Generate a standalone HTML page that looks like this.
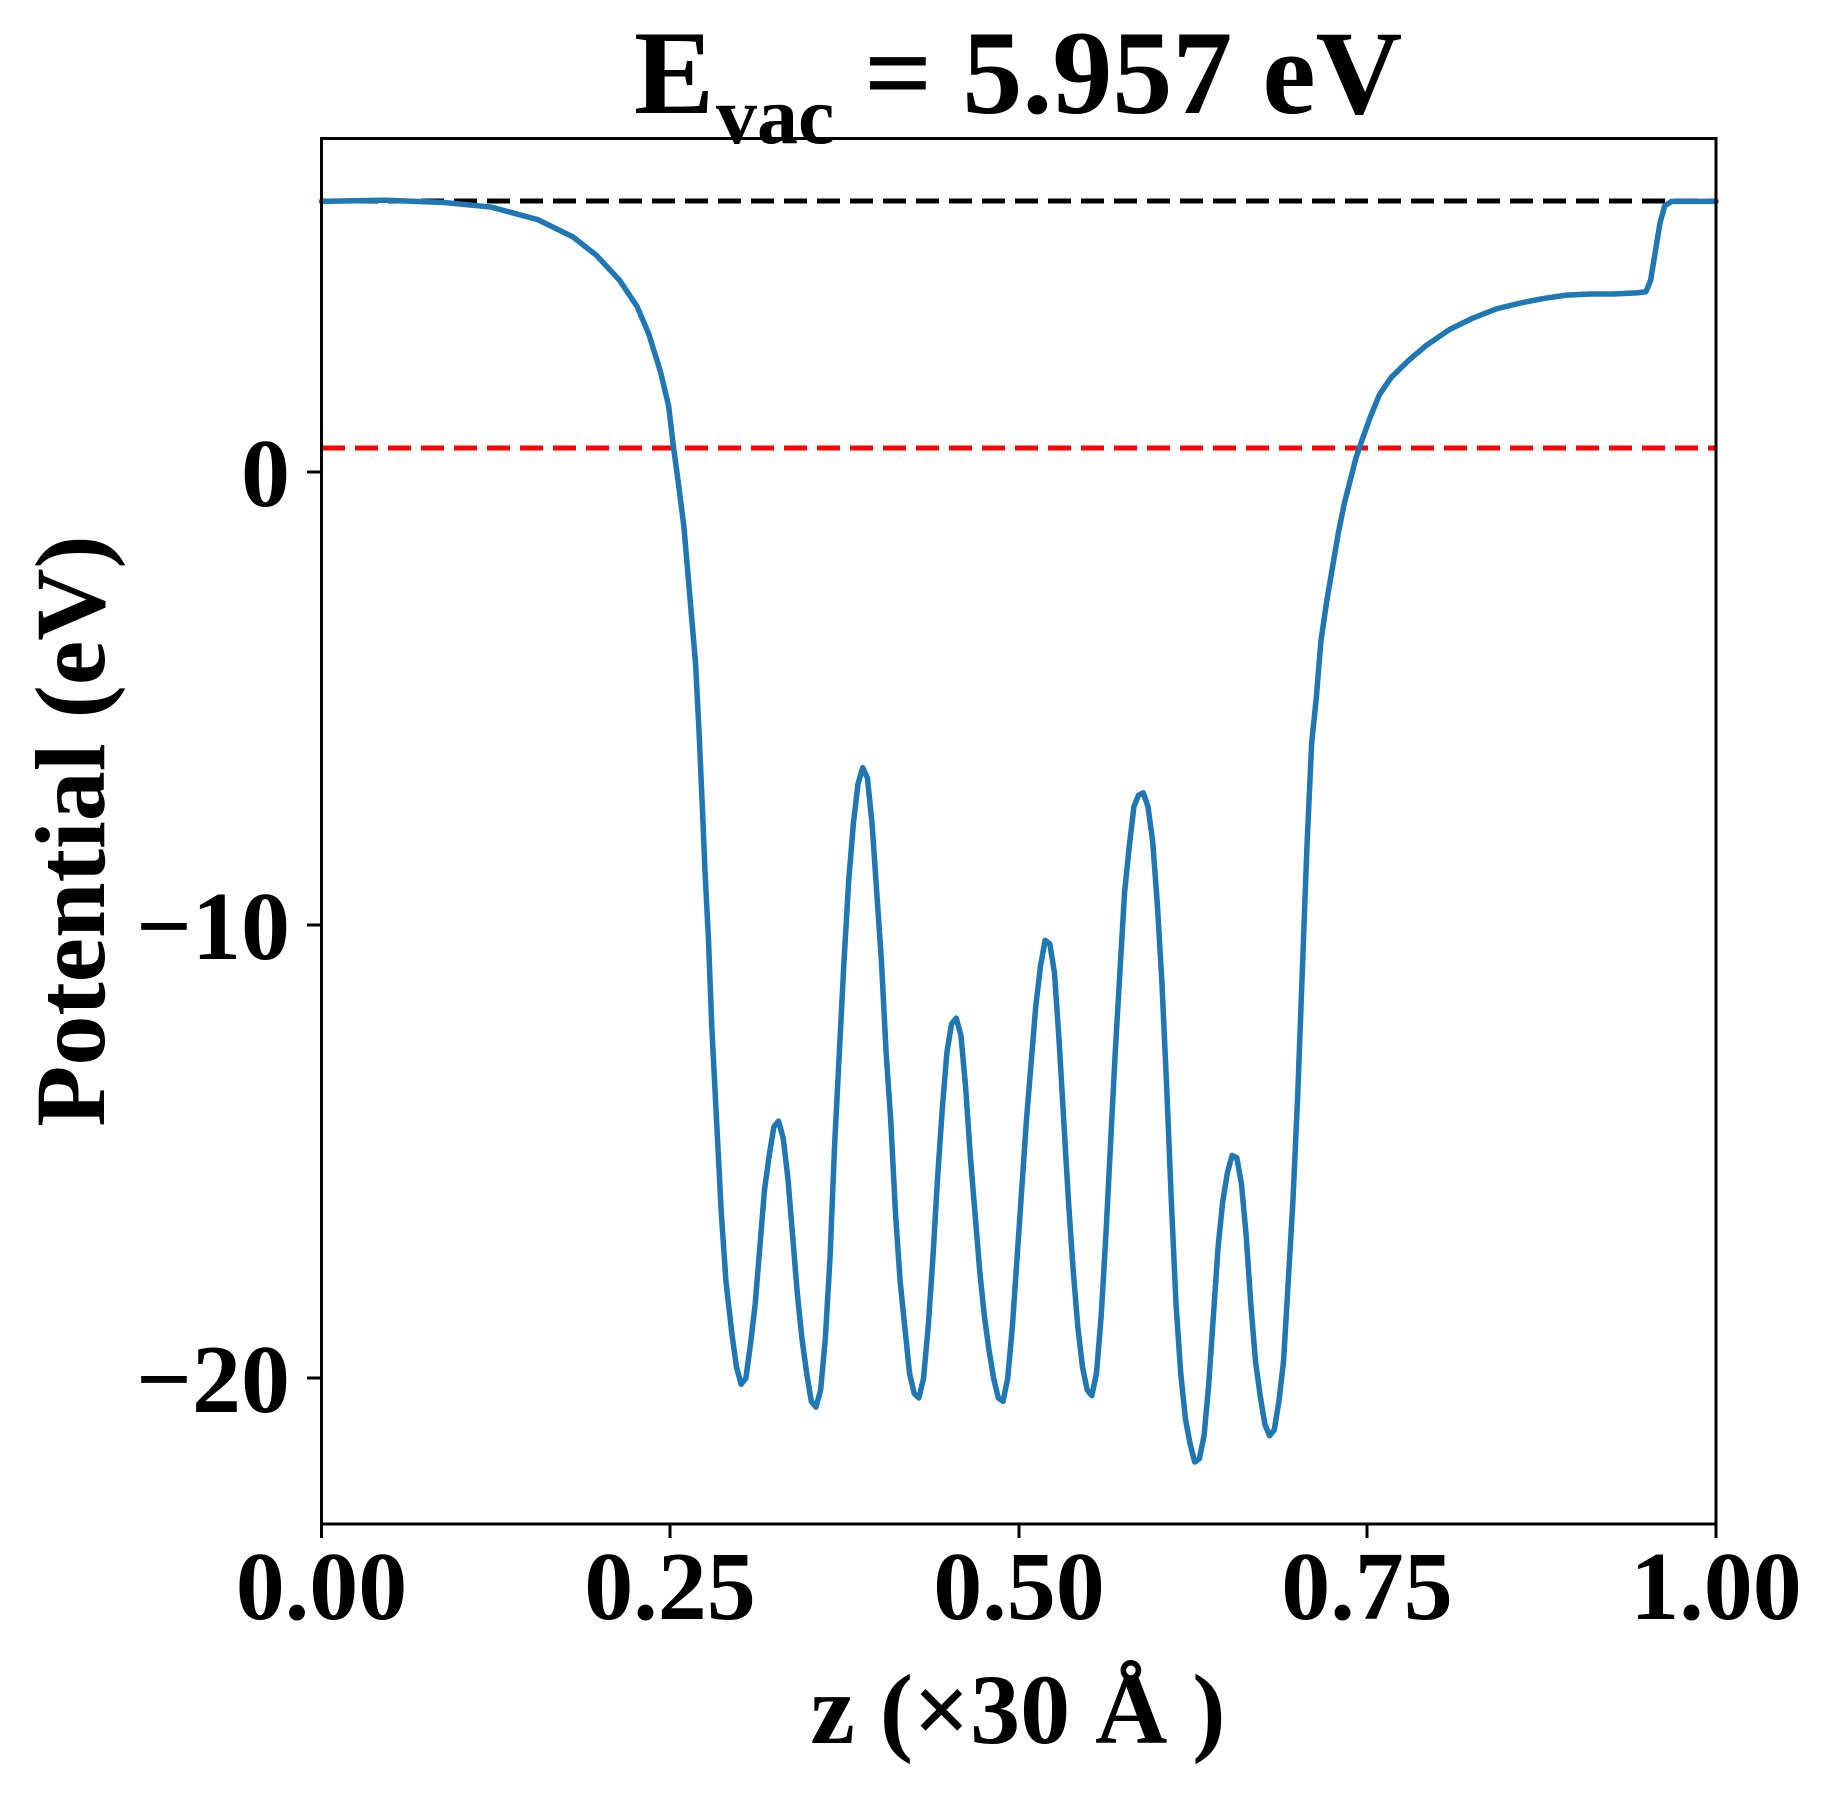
<!DOCTYPE html>
<html><head><meta charset="utf-8"><style>
html,body{margin:0;padding:0;background:#fff;}
svg{display:block;}
text{font-family:"Liberation Serif",serif;font-weight:bold;fill:#000;}
</style></head><body>
<svg width="1833" height="1794" viewBox="0 0 1833 1794" xmlns="http://www.w3.org/2000/svg">
<rect width="1833" height="1794" fill="#fff"/>
<line x1="322" y1="201" x2="1716" y2="201" stroke="#000" stroke-width="5" stroke-dasharray="23,10"/>
<line x1="322" y1="448" x2="1716" y2="448" stroke="#ff0000" stroke-width="5" stroke-dasharray="23,10"/>
<g transform="scale(1.169,1.144)">
<polyline fill="none" stroke="#1f77b4" stroke-width="5.5" vector-effect="non-scaling-stroke" stroke-linejoin="round" stroke-linecap="round"
points="275,176 330,175 380,177 420,181 460,192 490,207 510,223 530,245 545,268 555,292 565,325 572,355 576,390 580,420 585,460 590,520 595,580 598,640 601,710 603,760 606,820 609,900 613,980 617,1060 621,1120 626,1165 630,1195 634,1210 638,1205 642,1175 646,1140 650,1090 654,1040 658,1010 662,985 666,980 670,995 674,1030 678,1080 682,1130 686,1170 690,1200 694,1225 698,1230 702,1215 706,1170 710,1100 714,1000 718,920 722,840 726,770 730,720 734,685 738,671 742,680 746,720 750,780 754,840 758,920 762,980 766,1060 770,1120 774,1160 778,1200 782,1218 786,1222 790,1205 794,1160 798,1100 802,1030 806,970 810,920 814,895 818,890 822,905 826,950 830,1010 834,1060 838,1110 842,1150 846,1180 850,1205 854,1222 858,1225 862,1205 866,1160 870,1100 874,1040 878,980 882,930 886,880 890,845 894,822 898,825 902,850 906,910 910,980 914,1050 918,1110 922,1160 926,1195 930,1215 934,1220 938,1200 942,1150 946,1080 950,1000 954,920 958,850 962,780 966,740 970,705 974,695 978,693 982,705 986,735 990,790 994,860 998,950 1002,1050 1006,1140 1010,1200 1014,1240 1018,1262 1022,1278 1026,1275 1030,1255 1034,1210 1038,1150 1042,1090 1046,1050 1050,1025 1054,1010 1058,1012 1062,1035 1066,1080 1070,1140 1074,1190 1078,1220 1082,1245 1086,1255 1090,1250 1094,1225 1098,1190 1102,1120 1106,1050 1110,960 1114,850 1118,740 1122,650 1126,610 1130,560 1135,525 1140,495 1145,465 1150,440 1155,420 1160,400 1165,385 1172,365 1180,345 1190,330 1205,315 1220,302 1240,288 1260,278 1280,270 1300,265 1320,261 1340,258 1360,257 1380,257 1400,256 1408,255 1412,245 1416,220 1420,195 1424,180 1430,176 1468,176"/>
</g>
<rect x="321.5" y="138.5" width="1394.5" height="1385.5" fill="none" stroke="#000" stroke-width="3"/>
<g stroke="#000" stroke-width="3">
<line x1="307" y1="472" x2="321" y2="472"/>
<line x1="307" y1="925" x2="321" y2="925"/>
<line x1="307" y1="1378" x2="321" y2="1378"/>
<line x1="321.5" y1="1524" x2="321.5" y2="1538"/>
<line x1="670" y1="1524" x2="670" y2="1538"/>
<line x1="1019" y1="1524" x2="1019" y2="1538"/>
<line x1="1367" y1="1524" x2="1367" y2="1538"/>
<line x1="1716" y1="1524" x2="1716" y2="1538"/>
</g>
<g font-size="98" text-anchor="end">
<text x="290" y="506">0</text>
<text x="290" y="959">−10</text>
<text x="290" y="1412">−20</text>
</g>
<g font-size="98" text-anchor="middle">
<text x="321.5" y="1619">0.00</text>
<text x="670" y="1619">0.25</text>
<text x="1019" y="1619">0.50</text>
<text x="1367" y="1619">0.75</text>
<text x="1716" y="1619">1.00</text>
</g>
<text x="1018" y="1743" font-size="100" text-anchor="middle">z (×30 Å )</text>
<text transform="translate(104,831) rotate(-90)" font-size="100" text-anchor="middle">Potential (eV)</text>
<text x="634" y="113" font-size="120">E</text>
<text x="716" y="143" font-size="82">vac</text>
<text x="864" y="113" font-size="120">= 5.957 eV</text>
</svg>
</body></html>
